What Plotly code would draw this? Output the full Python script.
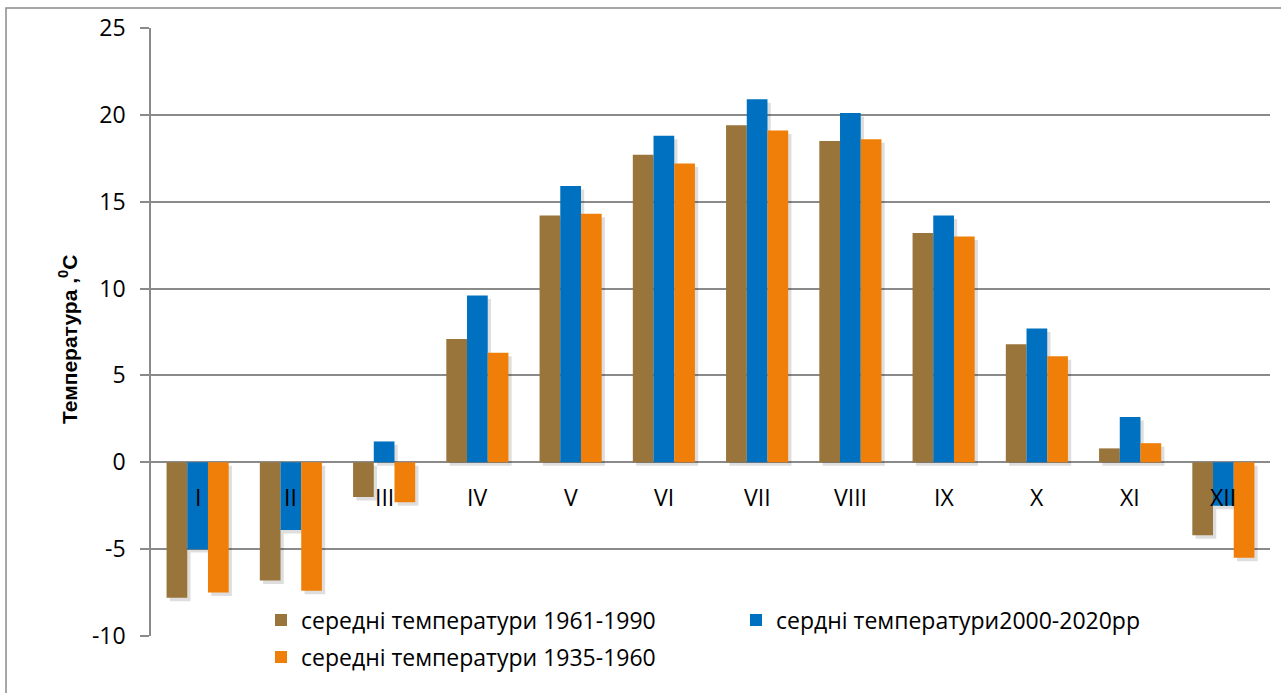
import plotly.graph_objects as go

months = ["I", "II", "III", "IV", "V", "VI", "VII", "VIII", "IX", "X", "XI", "XII"]
t_1961_1990 = [-7.8, -6.8, -2.0, 7.1, 14.2, 17.7, 19.4, 18.5, 13.2, 6.8, 0.8, -4.2]
t_2000_2020 = [-5.0, -3.9, 1.2, 9.6, 15.9, 18.8, 20.9, 20.1, 14.2, 7.7, 2.6, -2.5]
t_1935_1960 = [-7.5, -7.4, -2.3, 6.3, 14.3, 17.2, 19.1, 18.6, 13.0, 6.1, 1.1, -5.5]

y_tick_vals = [-10, -5, 0, 5, 10, 15, 20, 25]
y_tick_text = ["-10", "-5", "0", "5", "10", "15", "20", "25"]

names = ["середні температури 1961-1990", "сердні температури2000-2020рр", "середні температури 1935-1960"]
colors = ["#99743B", "#0070C0", "#F07F09"]
series = [t_1961_1990, t_2000_2020, t_1935_1960]
legends = ["legend", "legend", "legend2"]

W, H = 1281, 693
L, R, T, B = 151, 11, 28, 57
pw, ph = W - L - R, H - T - B

def px_x(p):
    return (p - L) / pw

def px_y(p):
    return (H - B - p) / ph

bar_w = 0.222
offsets = [-0.333, -0.111, 0.111]

fig = go.Figure()
# soft shadows
for vals, off in zip(series, offsets):
    fig.add_trace(go.Bar(x=months, y=vals, base=-0.2, width=bar_w, offset=off + 0.035,
                         marker=dict(color="rgba(0,0,0,0.13)", line=dict(width=0)),
                         showlegend=False, hoverinfo="skip"))
for vals, off, name, col, lg in zip(series, offsets, names, colors, legends):
    fig.add_trace(go.Bar(x=months, y=vals, width=bar_w, offset=off, name=name,
                         marker=dict(color=col, line=dict(width=0)), legend=lg))

annotations = []
for m in months:
    annotations.append(dict(x=m, y=0, xref="x", yref="y", text=m, showarrow=False,
                            yanchor="middle", yshift=-35,
                            font=dict(family="Open Sans", size=23, color="#000")))
annotations.append(dict(x=px_x(68), y=px_y(340), xref="paper", yref="paper",
                        text="<b>Температура ,<sup>0</sup>C</b>", textangle=-90, showarrow=False,
                        xanchor="center", yanchor="middle",
                        font=dict(family="Liberation Sans", size=21, color="#000")))

fig.update_layout(
    width=W, height=H,
    margin=dict(l=L, r=R, t=T, b=B),
    paper_bgcolor="white", plot_bgcolor="white",
    barmode="overlay",
    font=dict(family="Open Sans", size=23, color="#000"),
    xaxis=dict(type="category", range=[-0.5, 11.5], showticklabels=False, showgrid=False,
               zeroline=False, showline=False, ticks=""),
    yaxis=dict(range=[-10, 25], tickmode="array", tickvals=y_tick_vals, ticktext=y_tick_text,
               showgrid=True, gridcolor="#8a8a8a", gridwidth=1.5,
               zeroline=False, showline=True, linecolor="#8a8a8a", linewidth=1.5,
               ticks="outside", ticklen=9, tickcolor="#8a8a8a", tickwidth=1.5,
               ticklabelstandoff=10,
               tickfont=dict(family="Open Sans", size=23, color="#000")),
    legend=dict(orientation="h", x=px_x(261), y=px_y(620), xanchor="left", yanchor="middle",
                entrywidth=430, entrywidthmode="pixels", bgcolor="rgba(0,0,0,0)",
                font=dict(family="Open Sans", size=23, color="#000")),
    legend2=dict(orientation="h", x=px_x(261), y=px_y(657), xanchor="left", yanchor="middle",
                 bgcolor="rgba(0,0,0,0)",
                 font=dict(family="Open Sans", size=23, color="#000")),
    annotations=annotations,
    shapes=[dict(type="rect", xref="paper", yref="paper", x0=px_x(6), y0=-0.3, x1=1.2, y1=px_y(8),
                 line=dict(color="#8a8a8a", width=1.5), fillcolor="rgba(0,0,0,0)", layer="below")],
)

fig.write_html("out.html", config={"displayModeBar": False},
               post_script="document.body.style.margin='0';document.body.style.overflow='hidden';")
